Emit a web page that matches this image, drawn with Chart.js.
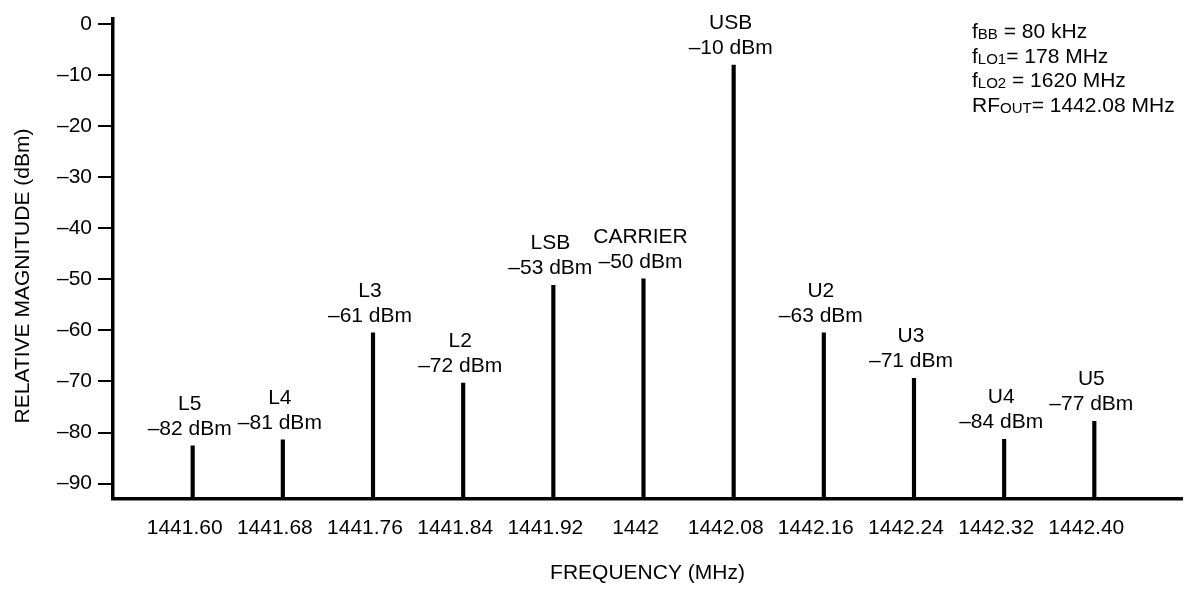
<!DOCTYPE html>
<html>
<head>
<meta charset="utf-8">
<script src="https://cdn.jsdelivr.net/npm/chart.js"></script>
<style>
  html, body { margin: 0; padding: 0; background: #fff; }
  #wrap { width: 1185px; height: 589px; position: relative; }
</style>
</head>
<body>
<div id="wrap"><canvas id="mainChart"></canvas></div>
<script>
// spectrum lines
const freqs = [1441.60, 1441.68, 1441.76, 1441.84, 1441.92, 1442.00, 1442.08, 1442.16, 1442.24, 1442.32, 1442.40];
const levels = [-82.6, -81.4, -60.5, -70.3, -51.2, -49.9, -8.1, -60.5, -69.4, -81.3, -77.8];
const names = ['L5', 'L4', 'L3', 'L2', 'LSB', 'CARRIER', 'USB', 'U2', 'U3', 'U4', 'U5'];
const levelLabels = ['–82 dBm', '–81 dBm', '–61 dBm', '–72 dBm', '–53 dBm', '–50 dBm', '–10 dBm', '–63 dBm', '–71 dBm', '–84 dBm', '–77 dBm'];
const xTickLabels = ['1441.60', '1441.68', '1441.76', '1441.84', '1441.92', '1442', '1442.08', '1442.16', '1442.24', '1442.32', '1442.40'];
const yTicks = [0, -10, -20, -30, -40, -50, -60, -70, -80, -90];
const noteLines = [
  ['f', 'BB', ' = 80 kHz'],
  ['f', 'LO1', '= 178 MHz'],
  ['f', 'LO2', ' = 1620 MHz'],
  ['RF', 'OUT', '= 1442.08 MHz']
];

const FONT = '"Liberation Sans", Arial, Helvetica, sans-serif';
const Y_MIN = -93, Y_MAX = 1;

const labelsPlugin = {
  id: 'stemLabels',
  afterDraw(chart) {
    const ctx = chart.ctx;
    const xs = chart.scales.x, ys = chart.scales.y;
    ctx.save();
    ctx.fillStyle = '#000';
    ctx.textAlign = 'center';
    ctx.textBaseline = 'alphabetic';
    ctx.font = '21px ' + FONT;
    freqs.forEach(function(f, i) {
      const px = xs.getPixelForValue(f) - 3;
      const py = ys.getPixelForValue(levels[i]) - 11;
      ctx.fillText(levelLabels[i], px, py);
      ctx.fillText(names[i], px, py - 25);
    });

    // axis titles
    ctx.fillText('FREQUENCY (MHz)', (chart.chartArea.left + chart.chartArea.right) / 2, 579);
    ctx.save();
    ctx.translate(29, 276);
    ctx.rotate(-Math.PI / 2);
    ctx.fillText('RELATIVE MAGNITUDE (dBm)', 0, 0);
    ctx.restore();

    // settings note, top right
    ctx.textAlign = 'left';
    noteLines.forEach(function(parts, i) {
      let x = 972;
      const y = 38 + i * 24.7;
      ctx.font = '21px ' + FONT;
      ctx.fillText(parts[0], x, y);
      x += ctx.measureText(parts[0]).width;
      ctx.font = '15px ' + FONT;
      ctx.fillText(parts[1], x, y + 1);
      x += ctx.measureText(parts[1]).width;
      ctx.font = '21px ' + FONT;
      ctx.fillText(parts[2], x, y);
    });
    ctx.restore();
  }
};

new Chart(document.getElementById('mainChart'), {
  type: 'bar',
  data: {
    datasets: [{
      data: freqs.map(function(f, i) { return { x: f, y: [Y_MIN, levels[i]] }; }),
      backgroundColor: '#000',
      borderWidth: 0,
      barThickness: 3.5
    }]
  },
  options: {
    responsive: true,
    maintainAspectRatio: false,
    animation: false,
    layout: { padding: { top: 13, right: 3, left: 0, bottom: 0 } },
    plugins: { legend: { display: false }, tooltip: { enabled: false } },
    scales: {
      x: {
        type: 'linear',
        offset: false,
        min: 1441.5293,
        max: 1442.4778,
        afterBuildTicks: function(scale) {
          scale.ticks = freqs.map(function(v) { return { value: v }; });
        },
        afterFit: function(scale) { scale.height = 90; },
        grid: { drawOnChartArea: false, drawTicks: false },
        border: { display: true, color: '#000', width: 3.5 },
        ticks: {
          color: '#000',
          padding: 17,
          labelOffset: -8,
          maxRotation: 0,
          autoSkip: false,
          font: { family: FONT, size: 21 },
          callback: function(v, i) { return xTickLabels[i]; }
        }
      },
      y: {
        min: Y_MIN,
        max: Y_MAX,
        afterBuildTicks: function(scale) {
          scale.ticks = yTicks.map(function(v) { return { value: v }; });
        },
        afterFit: function(scale) { scale.width = 113; },
        grid: { drawOnChartArea: false, drawTicks: true, tickLength: 15, color: '#000', lineWidth: 2 },
        border: { display: true, color: '#000', width: 3.5 },
        ticks: {
          color: '#000',
          padding: 6,
          font: { family: FONT, size: 21 },
          callback: function(v) { return v === 0 ? '0' : '–' + Math.abs(v); }
        }
      }
    }
  },
  plugins: [labelsPlugin]
});
</script>
</body>
</html>
